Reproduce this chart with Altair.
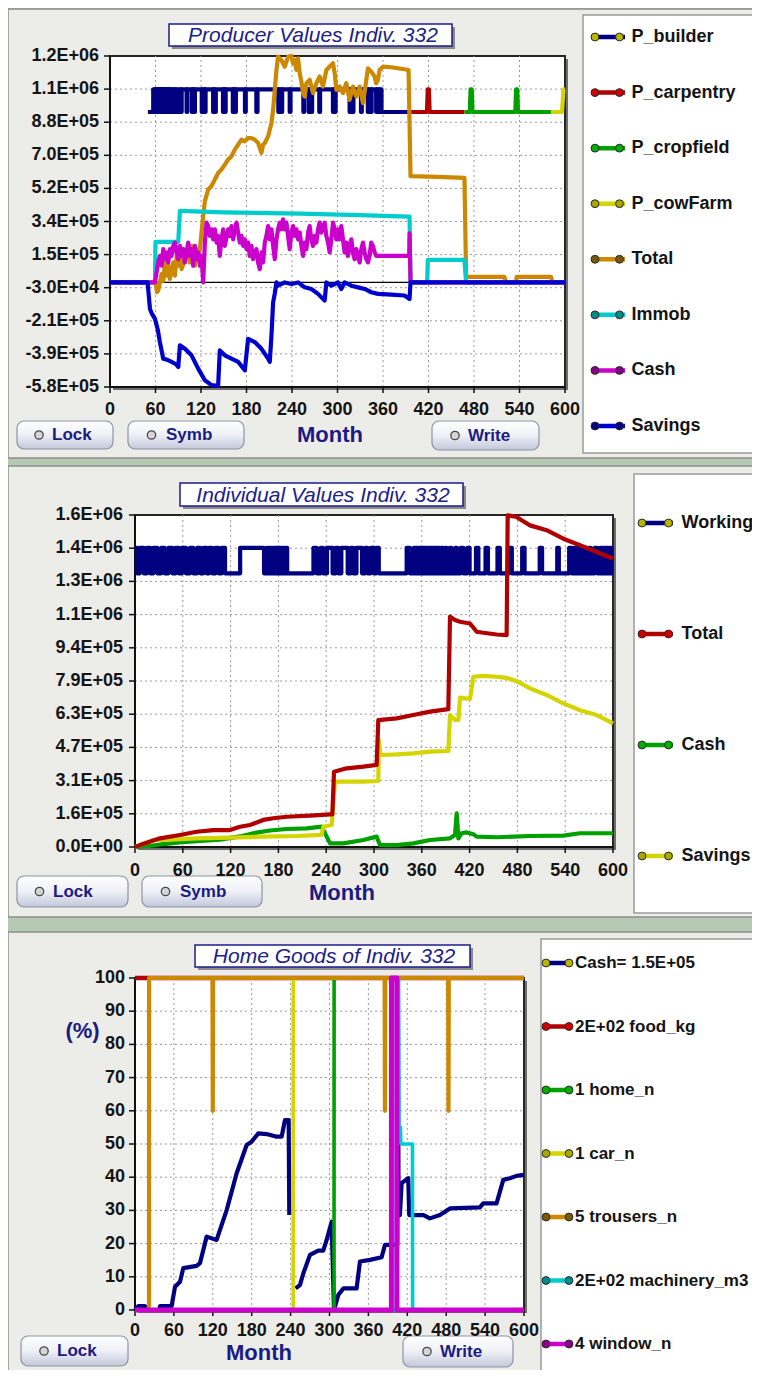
import altair as alt
import pandas as pd

W, H = 744, 1362
M = 8


def px(x):
    return x - M


def py(y):
    return y - M


FONT = "Liberation Sans"
TXT_NAVY = "#1b1b82"
NAVY = "#000080"
DRED = "#b00000"
GREEN = "#00a000"
YELLOW = "#d4d400"
ORANGE = "#cc8800"
CYAN = "#00cccc"
MAGENTA = "#cc00cc"
BLUE = "#0000cc"

MONTH_TICKS = [0, 60, 120, 180, 240, 300, 360, 420, 480, 540, 600]
MONTH_LABELS = ["0", "60", "120", "180", "240", "300", "360", "420", "480", "540", "600"]

# ---------------- Panel 1 : Producer Values ----------------
P1_Y_TICKS = [-575000, -393000, -211000, -29000, 153000, 335000, 517000, 699000, 881000, 1063000, 1245000]
P1_Y_LABELS = ["-5.8E+05", "-3.9E+05", "-2.1E+05", "-3.0E+04", "1.5E+05", "3.4E+05",
               "5.2E+05", "7.0E+05", "8.8E+05", "1.1E+06", "1.2E+06"]
P1_LOW, P1_HIGH = 937000, 1062000
builder_start, builder_end = 50, 396.3
builder_toggles = [57, 59, 60, 61.5, 62.5, 64, 65, 66, 67, 68, 69, 70, 71, 72.5, 73.5, 75, 76, 77, 78,
                   80, 81, 82, 83.5, 85, 86, 88, 89.5, 93.5, 94.5, 101, 102, 108, 109, 111, 112,
                   121, 122, 125, 126, 136, 137, 138, 139.5, 149, 150, 151.5, 152.5, 162, 163, 165, 166,
                   178, 179, 193, 194.5, 222, 223, 226, 227, 237, 238, 255, 256, 262, 263, 265, 266.5,
                   276, 277, 294, 295, 296.5, 297.5, 316, 317, 320, 321, 331, 332, 340, 341, 344, 345,
                   351, 352, 355, 356, 358]
carpentry_m = [396.3, 418.0, 419.0, 420.5, 421.5, 467.4]
carpentry_k = [937, 937, 1062, 1062, 937, 937]
cropfield_m = [467.4, 474.5, 475.5, 477.0, 478.0, 534.5, 535.5, 537.0, 538.0, 581.5]
cropfield_k = [937, 937, 1062, 1062, 937, 937, 1062, 1062, 937, 937]
cowfarm_m = [581.5, 596.0, 598.0, 600.0]
cowfarm_k = [937, 937, 1062, 1062]

p1_total_m = [0, 58, 60.1, 61.9, 63.6, 65.8, 68.0, 70.2, 72.4, 74.6, 76.8, 79.0, 81.2, 83.4, 85.6, 87.8,
              90.0, 92.2, 94.4, 98.8, 103.1, 105.3, 107.5, 109.7, 111.9, 114.1, 116.3, 118.5, 122.9,
              125.1, 129.5, 133.9, 138.3, 142.6, 147.0, 151.4, 155.8, 160.2, 164.6, 169.0, 173.4, 177.8,
              182.1, 186.5, 190.9, 195.3, 199.7, 201.9, 204.1, 208.5, 210.7, 212.9, 215.1, 217.3, 219.5,
              221.6, 226.0, 230.4, 234.8, 239.2, 241.4, 243.6, 245.8, 248.0, 250.2, 252.4, 254.6, 256.8,
              259.0, 263.3, 267.7, 272.1, 276.5, 280.9, 285.3, 289.7, 294.1, 296.3, 298.5, 302.8, 307.2,
              311.6, 316.0, 320.4, 324.8, 329.2, 333.6, 338.0, 340.2, 344.5, 348.9, 351.1, 353.3, 355.5,
              357.7, 359.9, 370.9, 388.4, 393.7, 396.3, 432.3, 467.4, 469.6, 520.1, 522.3, 535.5, 536.3,
              581.5, 583.7, 600]
p1_total_k = [0, 0, 0, -54, -45, 0, 46, 9, 110, 37, 92, 19, 73, 110, 37, 146, 92, 165, 73, 128, 183, 110,
              201, 165, 92, 183, 146, 183, 365, 447, 511, 530, 566, 602, 621, 648, 676, 694, 730, 758, 785,
              776, 794, 794, 785, 767, 712, 758, 767, 803, 840, 876, 949, 1059, 1168, 1241, 1223, 1186,
              1241, 1245, 1204, 1223, 1168, 1232, 1150, 1104, 1041, 1022, 1095, 1114, 1041, 1095, 1132,
              1077, 1168, 1187, 1205, 1150, 1059, 1077, 1041, 1095, 1004, 1077, 1022, 1077, 986, 1114,
              1177, 1159, 1132, 1095, 1114, 1168, 1177, 1187, 1183, 1172, 1168, 584, 580, 575, 31, 31, 0,
              0, 31, 31, 0, 0]
p1_immob_m = [0, 59.3, 60.0, 90.0, 92.2, 150, 250, 330, 370, 395.0, 396.3, 418.3, 419.1, 467.4, 469.6, 600]
p1_immob_k = [0, 0, 223, 223, 393, 385, 378, 370, 365, 362, 0, 0, 124, 124, 0, 0]
p1_cash_m = [0, 55, 59.3, 63.6, 65.8, 68, 70.2, 72.4, 74.6, 76.8, 79, 81.2, 83.4, 85.6, 87.8, 90, 92.2,
             94.4, 96.6, 98.8, 101, 103.1, 105.3, 107.5, 109.7, 111.9, 114.1, 116.3, 118.5, 120.7, 122.9,
             125.1, 127.3, 129.5, 131.7, 133.9, 136.1, 138.3, 140.5, 142.6, 144.8, 147, 149.2, 151.4,
             155.8, 158, 160.2, 162.4, 164.6, 166.8, 169, 171.2, 173.4, 175.6, 177.8, 180, 182.1, 184.3,
             186.5, 188.7, 190.9, 193.1, 195.3, 197.5, 199.7, 201.9, 204.1, 206.3, 208.5, 210.7, 212.9,
             215.1, 217.3, 219.5, 221.6, 223.8, 226, 228.2, 230.4, 232.6, 234.8, 237, 239.2, 241.4, 243.6,
             245.8, 248, 250.2, 252.4, 254.6, 256.8, 259, 261.2, 263.3, 265.5, 267.7, 269.9, 272.1, 274.3,
             276.5, 278.7, 280.9, 283.1, 285.3, 287.5, 289.7, 291.9, 294.1, 296.3, 298.5, 300.6, 302.8,
             305, 307.2, 309.4, 311.6, 313.8, 316, 318.2, 320.4, 322.6, 324.8, 327, 329.2, 331.4, 333.6,
             335.8, 338, 340.2, 342.3, 344.5, 346.7, 348.9, 351.1, 353.3, 388.4, 394.5, 395.0, 396.3, 600]
p1_cash_k = [0, 0, 0, 110, 146, 92, 183, 128, 165, 110, 183, 146, 201, 219, 165, 128, 201, 146, 183, 110,
             165, 219, 146, 183, 92, 201, 128, 165, 92, 146, 0, 219, 329, 310, 256, 292, 237, 292, 219, 256,
             146, 237, 292, 201, 292, 256, 310, 237, 292, 329, 274, 219, 256, 201, 237, 183, 219, 146, 201,
             128, 165, 183, 110, 73, 165, 110, 219, 256, 310, 237, 292, 201, 128, 237, 292, 329, 292, 347,
             292, 329, 256, 183, 274, 310, 256, 292, 237, 274, 201, 146, 219, 183, 274, 310, 237, 201, 256,
             219, 292, 329, 274, 310, 329, 256, 219, 165, 237, 329, 292, 237, 292, 237, 310, 237, 165, 219,
             146, 201, 237, 165, 128, 183, 146, 110, 183, 219, 165, 128, 110, 146, 219, 201, 165, 146, 146,
             146, 146, 270, 0, 0]
p1_sav_m = [0, 49.6, 52.7, 55, 59.3, 63, 65.8, 70.2, 75, 81.2, 87, 90, 92.2, 98.8, 107.5, 116.3, 125.1,
            133.9, 142.6, 144.8, 151.4, 160.2, 169, 177.8, 182.1, 190.9, 199.7, 208.5, 210.7, 212.9, 215.1,
            217.3, 219.5, 221.6, 230.4, 239.2, 248, 256.8, 265.5, 274.3, 283.1, 285.3, 291.9, 296.3, 300.6,
            305, 309.4, 318.2, 327, 335.8, 344.5, 353.3, 370.9, 388.4, 395, 396.3, 600]
p1_sav_k = [0, 0, -146, -170, -200, -260, -328, -419, -425, -437, -450, -465, -346, -365, -401, -474,
            -538, -565, -569, -374, -401, -419, -437, -483, -310, -328, -365, -419, -437, -292, -110, -60,
            0, -18, 0, -9, 0, -27, -36, -63, -100, 0, -18, -9, 0, -36, 0, -18, -27, -36, -54, -63, -67,
            -72, -91, 0, 0]

# ---------------- Panel 2 : Individual Values ----------------
P2_Y_TICKS = [0, 157000, 314000, 471000, 628000, 785000, 942000, 1099000, 1256000, 1413000, 1570000]
P2_Y_LABELS = ["0.0E+00", "1.6E+05", "3.1E+05", "4.7E+05", "6.3E+05", "7.9E+05", "9.4E+05",
               "1.1E+06", "1.3E+06", "1.4E+06", "1.6E+06"]
P2_LOW, P2_HIGH = 1294000, 1415000
work_toggles = [2.5, 6, 11, 15, 19, 23, 28, 33, 37, 42, 47, 51, 55, 59, 64, 69, 73, 78, 82, 86, 90, 93, 97,
                101, 105, 109, 113, 132, 162, 166, 167.5, 169, 170.5, 172, 173.5, 175, 176.5, 178, 179.5,
                181, 183, 185, 187, 189, 191, 224, 228, 233, 236, 241, 248, 252, 255, 259, 267, 271, 274,
                278, 285, 289, 292, 296, 300, 303, 306, 341, 345, 350, 351.5, 353, 354.5, 356, 357.5, 359,
                360.5, 362, 363.5, 365, 366.5, 368, 369.5, 371, 372.5, 374, 375.5, 377, 378.5, 380, 382,
                384, 386, 389, 391, 395, 397, 402, 404, 409, 412, 417, 420, 428, 431, 440, 443, 455, 458,
                470, 473, 486, 489, 508, 511, 530, 532, 545, 548, 551, 553, 555, 557, 560, 562, 565, 567,
                570, 572, 577, 580, 584, 586, 588, 590, 592, 594, 596, 598]
p2_total_m = [0, 6.3, 31.4, 56.5, 77.4, 98.3, 119.2, 131.8, 144.3, 161.1, 173.6, 190.4, 219.7, 244.8,
              247.7, 249.8, 265.7, 286.6, 303.3, 305.4, 328.4, 349.4, 370.3, 393.3, 395.4, 401.7, 408.0,
              420.5, 428.9, 437.2, 454.0, 466.5, 467.8, 479.1, 485.3, 495.8, 516.7, 537.6, 558.6, 579.5, 600]
p2_total_k = [0, 9, 41, 57, 72, 80, 80, 96, 104, 128, 136, 143, 148, 154, 154, 356, 372, 380, 388, 600,
              608, 624, 640, 652, 1089, 1073, 1065, 1057, 1018, 1013, 1005, 1002, 1568, 1561, 1545, 1521,
              1498, 1458, 1427, 1395, 1364]
p2_cash_m = [0, 21, 35.6, 56.5, 77.4, 106.7, 131.8, 152.7, 169.5, 190.4, 215.5, 234.3, 240.6, 244.8,
             261.6, 286.6, 303.3, 307.5, 328.4, 349.4, 370.3, 395.4, 401.7, 403.8, 405.9, 410, 416.3,
             424.7, 428.9, 454, 475, 495.8, 537.6, 558.6, 600]
p2_cash_k = [0, 6, 14, 22, 28, 35, 50, 68, 78, 85, 88, 96, 49, 17, 17, 33, 49, 9, 9, 17, 33, 41, 57, 159,
             41, 65, 69, 60, 49, 46, 49, 52, 54, 65, 65]
p2_sav_m = [0, 23, 35.6, 77.4, 119.2, 161.1, 203, 234.3, 236.4, 246.9, 251, 286.6, 305.4, 306.2, 308,
            328.4, 349.4, 370.3, 393.3, 395.4, 401.7, 405.9, 408, 420.5, 424.7, 437.2, 454, 466.5, 479.1,
            495.8, 516.7, 537.6, 558.6, 579.5, 600]
p2_sav_k = [0, 33, 33, 41, 44, 49, 52, 57, 96, 104, 309, 309, 312, 505, 435, 438, 443, 451, 454, 624, 601,
            601, 706, 700, 805, 809, 805, 800, 784, 750, 719, 679, 647, 624, 585]

# ---------------- Panel 3 : Home Goods (%) ----------------
P3_Y_TICKS = [0, 10, 20, 30, 40, 50, 60, 70, 80, 90, 100]
P3_Y_LABELS = ["0", "10", "20", "30", "40", "50", "60", "70", "80", "90", "100"]
p3_cash_a_m = [0, 5.1, 15.4, 17, 37.5, 38.6, 56.5, 61.7, 69.4, 74.5, 95.1, 100.2, 110.5, 125.9, 141.4,
               156.8, 172.2, 179.9, 190.2, 203, 218.5, 226.2, 231.3, 237, 238]
p3_cash_a_v = [0, 1.2, 1.2, 0, 0, 1.2, 1.2, 7, 8.5, 12.6, 13.3, 14.1, 22.1, 21.1, 30.1, 41.2, 49.7, 50.7,
               53.2, 53, 52.2, 52.2, 57.2, 57.2, 28.6]
p3_cash_b_m = [247.7, 254.4, 259.6, 269.9, 282.7, 290.4, 295.6, 303.3, 306.9, 308.4, 313.5, 321.3, 341.8,
               347, 362.4, 380.4, 385.5, 396, 404.5, 405.5, 406.5, 408.6, 411.2, 421.5, 423, 430, 445,
               454.9, 470.3, 485.7, 532, 537.1, 557.7, 568, 578.3, 588.5, 600]
p3_cash_b_v = [6.5, 7.5, 11, 16.6, 17.9, 17.9, 21.1, 26.6, 0, 1, 4.5, 6.5, 6.5, 14.6, 15.1, 15.9, 19.6,
               19.6, 19.6, 100, 28.6, 28.6, 38.2, 39.7, 28.6, 28.6, 28.6, 27.6, 28.6, 30.6, 30.9, 32.1,
               32.1, 39.2, 39.7, 40.4, 40.7]
p3_food_m = [0, 600]
p3_food_v = [100, 100]
p3_home_m = [0, 307, 307.1, 600]
p3_home_v = [0, 0, 100, 100]
p3_car_m = [0, 244, 244.1, 600]
p3_car_v = [0, 0, 100, 100]
p3_trousers_m = [0, 21.6, 21.7, 119.5, 120, 120.5, 385, 385.5, 386, 483, 483.5, 484, 600]
p3_trousers_v = [0, 0, 100, 100, 60, 100, 100, 60, 100, 100, 60, 100, 100]
p3_mach_m = [0, 403, 403.2, 406.5, 407, 409.5, 410, 428, 428.2, 600]
p3_mach_v = [0, 0, 100, 100, 55, 55, 50, 50, 0, 0]
p3_window_m = [0, 395.5, 395.6, 403.9, 404, 600]
p3_window_v = [0, 0, 100, 100, 0, 0]

# ---------------- legends ----------------
LEG1_NAMES = ["P_builder", "P_carpentry", "P_cropfield", "P_cowFarm", "Total", "Immob", "Cash", "Savings"]
LEG1_LINES = [NAVY, DRED, GREEN, YELLOW, ORANGE, CYAN, MAGENTA, BLUE]
LEG1_DOTS = ["#b8b800", "#d00000", "#00b000", "#a8a800", "#7a5a00", "#008b8b", "#8b008b", "#00008b"]
LEG2_NAMES = ["Working", "Total", "Cash", "Savings"]
LEG2_LINES = [NAVY, DRED, GREEN, YELLOW]
LEG2_DOTS = ["#b8b800", "#d00000", "#00b000", "#a8a800"]
LEG3_NAMES = ["Cash= 1.5E+05", "2E+02 food_kg", "1 home_n", "1 car_n", "5 trousers_n",
              "2E+02 machinery_m3", "4 window_n"]
LEG3_LINES = [NAVY, DRED, GREEN, YELLOW, ORANGE, CYAN, MAGENTA]
LEG3_DOTS = ["#b8b800", "#d00000", "#00b000", "#a8a800", "#7a5a00", "#008b8b", "#8b008b"]


# ================= helpers =================
def toggle_path(start, end, toggles, first, second):
    m, v = [start], [first]
    cur, other = first, second
    for t in toggles:
        m += [t, t]
        v += [cur, other]
        cur, other = other, cur
    m.append(end)
    v.append(cur)
    return m, v


def frame_df(m, v, mult=1.0, seg=0):
    return pd.DataFrame({"month": m, "value": [x * mult for x in v],
                         "idx": list(range(len(m))), "seg": seg})


ONE = pd.DataFrame({"k": [0]})


def box(x0, y0, x1, y1, **kw):
    return alt.Chart(ONE).mark_rect(**kw).encode(
        x=alt.value(px(x0)), x2=alt.value(px(x1)), y=alt.value(py(y0)), y2=alt.value(py(y1)))


def text(x, y, s, **kw):
    base = dict(font=FONT, baseline="middle")
    base.update(kw)
    return alt.Chart(ONE).mark_text(text=s, **base).encode(x=alt.value(px(x)), y=alt.value(py(y)))


def dot(x, y, **kw):
    return alt.Chart(ONE).mark_circle(**kw).encode(x=alt.value(px(x)), y=alt.value(py(y)))


def line(df, xs, ys, color, width=4.2, seg=False):
    enc = dict(x=alt.X("month:Q", scale=xs, axis=None), y=alt.Y("value:Q", scale=ys, axis=None),
               order="idx:Q")
    if seg:
        enc["detail"] = "seg:N"
    return alt.Chart(df).mark_line(color=color, strokeWidth=width, strokeJoin="round").encode(**enc)


LBL = dict(font=FONT, fontSize=18, fontWeight="bold", color="#151515")


def panel(xs, ys, ydom, yvals, ylabels, series, xlab_dy, ylab_dx, zero_line=False):
    ymin, ymax = ydom
    X = lambda f: alt.X(f, scale=xs, axis=None)
    Y = lambda f: alt.Y(f, scale=ys, axis=None)
    bdf = pd.DataFrame({"x0": [0], "x1": [600], "y0": [ymin], "y1": [ymax]})
    shadow = alt.Chart(bdf).mark_rect(fill="#6e6e6e", xOffset=3, x2Offset=3, yOffset=3, y2Offset=3).encode(
        x=X("x0:Q"), x2="x1:Q", y=Y("y0:Q"), y2="y1:Q")
    frame = alt.Chart(bdf).mark_rect(fill="white", stroke="#262626", strokeWidth=2).encode(
        x=X("x0:Q"), x2="x1:Q", y=Y("y0:Q"), y2="y1:Q")
    grid_style = dict(color="#9a9a9a", strokeDash=[2, 3], strokeWidth=1)
    vgrid = alt.Chart(pd.DataFrame({"x": MONTH_TICKS[1:-1], "y0": ymin, "y1": ymax})).mark_rule(
        **grid_style).encode(x=X("x:Q"), y=Y("y0:Q"), y2="y1:Q")
    hgrid = alt.Chart(pd.DataFrame({"y": yvals[1:-1], "x0": 0, "x1": 600})).mark_rule(
        **grid_style).encode(x=X("x0:Q"), x2="x1:Q", y=Y("y:Q"))
    xt = pd.DataFrame({"x": MONTH_TICKS, "lab": MONTH_LABELS, "y0": ymin})
    yt = pd.DataFrame({"y": yvals, "lab": ylabels, "x0": 0})
    dom_x = alt.Chart(bdf).mark_rule(color="#111", strokeWidth=2).encode(
        x=X("x0:Q"), x2="x1:Q", y=Y("y0:Q"))
    dom_y = alt.Chart(bdf).mark_rule(color="#111", strokeWidth=2).encode(
        x=X("x0:Q"), y=Y("y0:Q"), y2="y1:Q")
    xticks = alt.Chart(xt).mark_rule(color="#111", strokeWidth=1.5, y2Offset=6).encode(
        x=X("x:Q"), y=Y("y0:Q"), y2="y0:Q")
    yticks = alt.Chart(yt).mark_rule(color="#111", strokeWidth=1.5, x2Offset=-6).encode(
        x=X("x0:Q"), x2="x0:Q", y=Y("y:Q"))
    xlabels = alt.Chart(xt).mark_text(baseline="top", align="center", dy=xlab_dy, **LBL).encode(
        x=X("x:Q"), y=Y("y0:Q"), text="lab:N")
    ylabels_l = alt.Chart(yt).mark_text(baseline="middle", align="right", dx=ylab_dx, **LBL).encode(
        x=X("x0:Q"), y=Y("y:Q"), text="lab:N")
    layers = [shadow, frame, vgrid, hgrid, dom_x, dom_y, xticks, yticks, xlabels, ylabels_l]
    if zero_line:
        layers.append(alt.Chart(pd.DataFrame({"x0": [0], "x1": [600], "y": [0]})).mark_rule(
            color="black", strokeWidth=1.3).encode(x=X("x0:Q"), x2="x1:Q", y=Y("y:Q")))
    layers += series
    return alt.layer(*layers)


def legend(names, lcols, dcols, y_first, y_last, lx0, lx1, d0, d1, tx, fsize):
    df = pd.DataFrame({"name": names})
    Y = alt.Y("name:N", scale=alt.Scale(type="point", domain=names, range=[py(y_first), py(y_last)],
                                        padding=0), axis=None)
    fill = alt.Fill("name:N", scale=alt.Scale(domain=names, range=dcols), legend=None)
    seg = alt.Chart(df).mark_rule(strokeWidth=4.5).encode(
        x=alt.value(px(lx0)), x2=alt.value(px(lx1)), y=Y,
        color=alt.Color("name:N", scale=alt.Scale(domain=names, range=lcols), legend=None))
    dl = alt.Chart(df).mark_circle(size=62, opacity=1, stroke="#2a2a2a", strokeWidth=1).encode(
        x=alt.value(px(d0)), y=Y, fill=fill)
    dr = alt.Chart(df).mark_circle(size=62, opacity=1, stroke="#2a2a2a", strokeWidth=1).encode(
        x=alt.value(px(d1)), y=Y, fill=fill)
    tx_l = alt.Chart(df).mark_text(align="left", baseline="middle", font=FONT, fontSize=fsize,
                                   fontWeight="bold", color="#141414").encode(
        x=alt.value(px(tx)), y=Y, text="name:N")
    return alt.layer(seg, dl, dr, tx_l)


BTN_FILL = alt.Gradient(gradient="linear", x1=0, y1=0, x2=0, y2=1,
                        stops=[alt.GradientStop(offset=0, color="#ffffff"),
                               alt.GradientStop(offset=0.5, color="#eef0f6"),
                               alt.GradientStop(offset=1, color="#c3c8da")])


def button(x0, y0, x1, y1, cx, tx, label):
    cy = (y0 + y1) / 2
    return [box(x0, y0, x1, y1, fill=BTN_FILL, stroke="#8e93a8", strokeWidth=1.2, cornerRadius=7),
            dot(cx, cy, size=70, fill="#d6d6d6", stroke="#4a4a4a", strokeWidth=1.3, opacity=1),
            text(tx, cy, label, align="left", fontSize=17, fontWeight="bold", color=TXT_NAVY)]


def title_box(x0, y0, x1, y1, tcx, s):
    return [box(x0 + 3, y0 + 3, x1 + 3, y1 + 3, fill="#8a8a8a"),
            box(x0, y0, x1, y1, fill="white", stroke="#1c1c8c", strokeWidth=1.5),
            text(tcx, (y0 + y1) / 2 + 1, s, align="center", fontSize=21, fontStyle="italic",
                 color="#20208a")]


# ================= build =================
decor = []
for (y0, y1) in [(9, 458), (466, 917), (932, 1392)]:
    decor.append(box(8, y0, 770, y1, fill="#ecece8", stroke="#8d8d8d", strokeWidth=1.5))
decor.append(box(583, 15, 790, 453, fill="white", stroke="#9b9b9b", strokeWidth=1.5))
decor.append(box(634, 474, 790, 913, fill="white", stroke="#9b9b9b", strokeWidth=1.5))
decor.append(box(541, 939, 790, 1390, fill="white", stroke="#9b9b9b", strokeWidth=1.5))
decor += title_box(169, 24, 452, 46, 313, "Producer Values Indiv. 332")
decor += title_box(180, 483, 463, 506, 323, "Individual Values Indiv. 332")
decor += title_box(195, 945, 470, 967, 334, "Home Goods of Indiv. 332")
decor += button(17, 421, 113, 449, 39, 52, "Lock")
decor += button(128, 421, 244, 449, 151.5, 166, "Symb")
decor += button(432, 421, 539, 450, 455, 468, "Write")
decor += button(17, 876, 128, 907, 39.5, 53, "Lock")
decor += button(142, 876, 262, 907, 165.5, 180, "Symb")
decor += button(21, 1336, 128, 1366, 44, 57, "Lock")
decor += button(403, 1336, 513, 1367, 427, 440, "Write")
for (cx, cy) in [(330, 435), (342, 893), (259, 1353)]:
    decor.append(text(cx, cy, "Month", align="center", fontSize=22, fontWeight="bold", color=TXT_NAVY))
decor.append(text(82.5, 1031, "(%)", align="center", fontSize=22, fontWeight="bold", color=TXT_NAVY))

# ---- panel 1
xs1 = alt.Scale(domain=[0, 600], range=[px(110), px(565)], nice=False, zero=False)
ys1 = alt.Scale(domain=[P1_Y_TICKS[0], P1_Y_TICKS[-1]], range=[py(387), py(56)], nice=False, zero=False)
bm, bv = toggle_path(builder_start, builder_end, builder_toggles, P1_LOW, P1_HIGH)
s1 = [
    line(frame_df(bm, bv), xs1, ys1, NAVY),
    line(frame_df(carpentry_m, carpentry_k, 1000), xs1, ys1, DRED),
    line(frame_df(cropfield_m, cropfield_k, 1000), xs1, ys1, GREEN),
    line(frame_df(cowfarm_m, cowfarm_k, 1000), xs1, ys1, YELLOW),
    line(frame_df(p1_total_m, p1_total_k, 1000), xs1, ys1, ORANGE),
    line(frame_df(p1_immob_m, p1_immob_k, 1000), xs1, ys1, CYAN),
    line(frame_df(p1_cash_m, p1_cash_k, 1000), xs1, ys1, MAGENTA),
    line(frame_df(p1_sav_m, p1_sav_k, 1000), xs1, ys1, BLUE),
]
panel1 = panel(xs1, ys1, (P1_Y_TICKS[0], P1_Y_TICKS[-1]), P1_Y_TICKS, P1_Y_LABELS, s1,
               14, -11, zero_line=True)

# ---- panel 2
xs2 = alt.Scale(domain=[0, 600], range=[px(135), px(613)], nice=False, zero=False)
ys2 = alt.Scale(domain=[P2_Y_TICKS[0], P2_Y_TICKS[-1]], range=[py(847), py(515)], nice=False, zero=False)
wm, wv = toggle_path(0, 600, work_toggles, P2_HIGH, P2_LOW)
s2 = [
    line(frame_df(wm, wv), xs2, ys2, NAVY),
    line(frame_df(p2_cash_m, p2_cash_k, 1000), xs2, ys2, GREEN),
    line(frame_df(p2_sav_m, p2_sav_k, 1000), xs2, ys2, YELLOW),
    line(frame_df(p2_total_m, p2_total_k, 1000), xs2, ys2, DRED),
]
panel2 = panel(xs2, ys2, (P2_Y_TICKS[0], P2_Y_TICKS[-1]), P2_Y_TICKS, P2_Y_LABELS, s2, 14.5, -12)

# ---- panel 3
xs3 = alt.Scale(domain=[0, 600], range=[px(135), px(524)], nice=False, zero=False)
ys3 = alt.Scale(domain=[0, 100], range=[py(1310), py(978)], nice=False, zero=False)
cash3 = pd.concat([frame_df(p3_cash_a_m, p3_cash_a_v, 1, 0), frame_df(p3_cash_b_m, p3_cash_b_v, 1, 1)])
s3 = [
    line(frame_df(p3_food_m, p3_food_v), xs3, ys3, DRED, 4.5),
    line(cash3, xs3, ys3, NAVY, 4.2, seg=True),
    line(frame_df(p3_home_m, p3_home_v), xs3, ys3, GREEN, 3.6),
    line(frame_df(p3_car_m, p3_car_v), xs3, ys3, YELLOW, 3.6),
    line(frame_df(p3_trousers_m, p3_trousers_v), xs3, ys3, ORANGE, 4.2),
    line(frame_df(p3_mach_m, p3_mach_v), xs3, ys3, CYAN, 3.6),
    line(frame_df(p3_window_m, p3_window_v), xs3, ys3, MAGENTA, 5),
]
panel3 = panel(xs3, ys3, (0, 100), P3_Y_TICKS, P3_Y_LABELS, s3, 12, -10)

leg1 = legend(LEG1_NAMES, LEG1_LINES, LEG1_DOTS, 37, 426, 591, 625, 595, 619.5, 631.5, 18)
leg2 = legend(LEG2_NAMES, LEG2_LINES, LEG2_DOTS, 523, 856, 638, 673, 642, 668.5, 681.5, 18)
leg3 = legend(LEG3_NAMES, LEG3_LINES, LEG3_DOTS, 963, 1344, 542, 572, 546, 569, 575, 17)

chart = alt.layer(*decor, panel1, panel2, panel3, leg1, leg2, leg3).resolve_scale(
    x="independent", y="independent", color="independent", fill="independent"
).properties(
    width=W, height=H, background="#b6c9b3", padding=0,
    autosize=alt.AutoSizeParams(type="none"),
).configure_view(stroke=None)

chart.save("out.html", embed_options={"renderer": "svg", "actions": False})
